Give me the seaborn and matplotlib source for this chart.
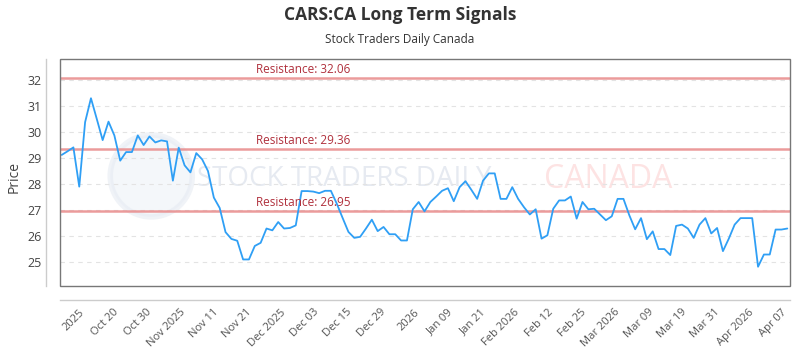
import numpy as np
import pandas as pd
import matplotlib
matplotlib.use("Agg")
import matplotlib.pyplot as plt
import matplotlib.transforms as mtransforms
from matplotlib.patches import Rectangle, Ellipse
import seaborn as sns

title = "CARS:CA Long Term Signals"
subtitle = "Stock Traders Daily Canada"

prices = [
    29.12, 29.26, 29.41, 27.90, 30.38, 31.30, 30.50, 29.69, 30.40, 29.87,
    28.90, 29.23, 29.23, 29.87, 29.50, 29.83, 29.60, 29.68, 29.64, 28.13,
    29.40, 28.72, 28.45, 29.19, 28.95, 28.50, 27.48, 27.08, 26.15, 25.89,
    25.82, 25.10, 25.10, 25.62, 25.74, 26.29, 26.22, 26.54, 26.29, 26.31,
    26.41, 27.73, 27.73, 27.71, 27.65, 27.74, 27.74, 27.25, 26.70, 26.16,
    25.93, 25.97, 26.29, 26.63, 26.19, 26.35, 26.07, 26.07, 25.83, 25.83,
    27.03, 27.31, 26.95, 27.31, 27.52, 27.74, 27.84, 27.34, 27.88, 28.11,
    27.78, 27.43, 28.13, 28.41, 28.41, 27.43, 27.43, 27.88, 27.43, 27.11,
    26.83, 27.03, 25.90, 26.03, 27.05, 27.37, 27.37, 27.52, 26.67, 27.31,
    27.03, 27.05, 26.83, 26.61, 26.76, 27.43, 27.43, 26.80, 26.26, 26.69,
    25.88, 26.18, 25.50, 25.50, 25.27, 26.39, 26.44, 26.29, 25.93, 26.44,
    26.69, 26.10, 26.31, 25.42, 25.90, 26.44, 26.69, 26.69, 26.69, 24.82,
    25.29, 25.29, 26.25, 26.25, 26.29,
]

tick_labels = [
    "2025", "Oct 20", "Oct 30", "Nov 2025", "Nov 11", "Nov 21", "Dec 2025",
    "Dec 03", "Dec 15", "Dec 29", "2026", "Jan 09", "Jan 21", "Feb 2026",
    "Feb 12", "Feb 25", "Mar 2026", "Mar 09", "Mar 19", "Mar 31",
    "Apr 2026", "Apr 07",
]

resistance_levels = [32.06, 29.36, 26.95]
y_ticks = [25, 26, 27, 28, 29, 30, 31, 32]

sns.set_style("white")
plt.rcParams["font.family"] = ["Open Sans", "DejaVu Sans"]

fig = plt.figure(figsize=(8, 3.5), dpi=100)
ax = fig.add_axes([0.075, 0.1829, 0.9125, 0.6486])

df = pd.DataFrame({"idx": np.arange(len(prices)), "price": prices})

# watermark
ax.add_patch(Ellipse((0.125, 0.485), 82 / 730, 82 / 227, transform=ax.transAxes,
                     facecolor="#eef2f8", edgecolor="#e6ebf3", lw=4, alpha=0.6, zorder=0))
ax.text(0.188, 0.47, "STOCK TRADERS DAILY", transform=ax.transAxes, fontsize=20,
        color="#e6eaf1", va="center", ha="left", zorder=0)
ax.text(0.663, 0.47, "CANADA", transform=ax.transAxes, fontsize=23,
        color="#fde3e3", va="center", ha="left", zorder=0)

sns.lineplot(data=df, x="idx", y="price", ax=ax, color="#2f9ff5", linewidth=1.3, zorder=5)

sns.despine(ax=ax, offset=10)
for s in ("left", "bottom"):
    ax.spines[s].set_color("#cccccc")
    ax.spines[s].set_linewidth(1)

blend = mtransforms.blended_transform_factory(ax.transAxes, ax.transData)
for r in resistance_levels:
    ax.axhline(r, color="#e88a8a", lw=1.8, alpha=0.85, zorder=3)
    ax.annotate(f"Resistance: {r:.2f}", xy=(0.2685, r), xycoords=blend,
                xytext=(0, 1.5), textcoords="offset points",
                color="#b0303c", fontsize=8.5, va="bottom", ha="left", zorder=6)

ax.set_xlim(-0.29, len(prices) - 1 + 0.46)
ax.set_ylim(24.08, 32.81)
ax.set_yticks(y_ticks)
ax.set_yticklabels([str(v) for v in y_ticks], fontsize=9, color="#444444")
ax.set_xticks(np.linspace(3, len(prices) - 2, len(tick_labels)))
ax.set_xticklabels(tick_labels, rotation=45, ha="right", rotation_mode="anchor",
                   fontsize=8, color="#555555")
ax.tick_params(axis="both", length=0)
ax.tick_params(axis="x", pad=5)
ax.tick_params(axis="y", pad=3)

ax.grid(axis="y", linestyle=(0, (4, 4)), color="#e3e3e3", linewidth=0.8)
ax.grid(axis="x", visible=False)
ax.set_axisbelow(True)

ax.set_xlabel("")
ax.set_ylabel("Price", fontsize=10, color="#444444")
ax.yaxis.set_label_coords(-0.052, 0.48)

ax.add_patch(Rectangle((0, 0), 1, 1, transform=ax.transAxes, fill=False,
                       edgecolor="#777777", lw=1, clip_on=False, zorder=10))

fig.text(0.5, 1 - 15 / 350, title, ha="center", va="center", fontsize=12.5,
         fontweight="bold", color="#333333")
fig.text(0.5, 1 - 40 / 350, subtitle, ha="center", va="center", fontsize=8.5,
         color="#333333")

fig.savefig("out.png", dpi=100)
